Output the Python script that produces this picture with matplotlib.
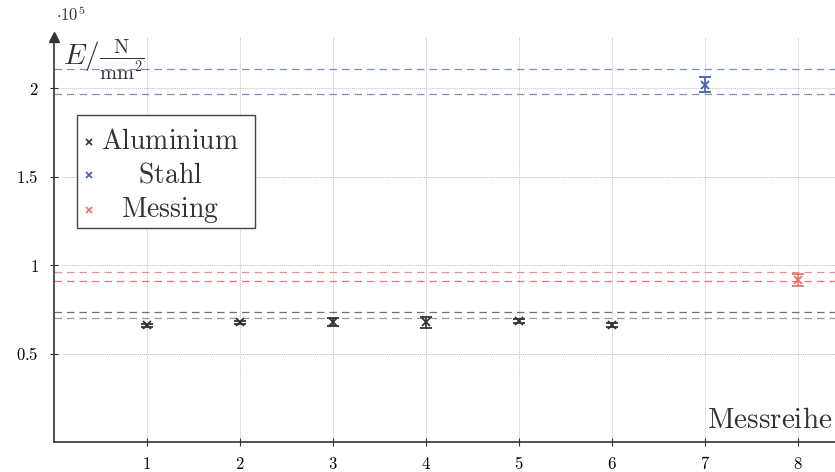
"""Elastic modulus per measurement series."""

import matplotlib

matplotlib.use("Agg")
import matplotlib.pyplot as plt  # noqa: E402
from matplotlib.patches import Rectangle  # noqa: E402

plt.rcParams["mathtext.fontset"] = "cm"
plt.rcParams["font.family"] = "serif"
plt.rcParams["font.serif"] = ["DejaVu Serif"]

SCALE = 1e5

# measured moduli in N/mm^2 with uncertainties
alu_series = [1, 2, 3, 4, 5, 6]
alu_E = [66000, 67600, 67800, 67600, 68400, 66300]
alu_err = [1000, 1000, 2200, 3000, 1200, 1200]

stahl_series = [7]
stahl_E = [202100]
stahl_err = [4000]

messing_series = [8]
messing_E = [91500]
messing_err = [3500]

# literature ranges (lower, upper) in N/mm^2
alu_range = [70000, 73500]
stahl_range = [196500, 211000]
messing_range = [91000, 96000]

x_ticks = [1, 2, 3, 4, 5, 6, 7, 8]
y_ticks = [0.5, 1, 1.5, 2]

BLACK = "#333333"
BLUE = "#3f5fb0"
RED = "#ec6f6c"

fig = plt.figure(figsize=(8.35, 4.72), dpi=100)
ax = fig.add_axes([54 / 835, 30 / 472, 781 / 835, 405 / 472])

# dashed reference bands
dash = (0, (6, 4))
ax.axhline(alu_range[1] / SCALE, color="#707070", lw=0.9, ls=dash)
ax.axhline(alu_range[0] / SCALE, color="#9a9a9a", lw=0.9, ls=dash)
ax.axhline(stahl_range[1] / SCALE, color="#6f92d6", lw=0.9, ls=dash)
ax.axhline(stahl_range[0] / SCALE, color="#8f86c8", lw=0.9, ls=dash)
ax.axhline(messing_range[1] / SCALE, color="#f08c96", lw=0.9, ls=dash)
ax.axhline(messing_range[0] / SCALE, color="#ee7676", lw=0.9, ls=dash)

for xs, ys, es, col in [
    (alu_series, alu_E, alu_err, BLACK),
    (stahl_series, stahl_E, stahl_err, BLUE),
    (messing_series, messing_E, messing_err, RED),
]:
    ax.errorbar(
        xs,
        [v / SCALE for v in ys],
        yerr=[e / SCALE for e in es],
        fmt="x",
        color=col,
        ms=6,
        mew=1.3,
        elinewidth=1.2,
        capsize=4,
        capthick=1.2,
        zorder=4,
    )

ax.set_xlim(0, 8.4)
ax.set_ylim(0, 2.29)
ax.set_xticks(x_ticks)
ax.set_yticks(y_ticks)
ax.set_xticklabels([f"${t:g}$" for t in x_ticks], fontsize=12)
ax.set_yticklabels([f"${t:g}$" for t in y_ticks], fontsize=12)
ax.tick_params(axis="x", pad=7)
ax.tick_params(axis="y", pad=8)
ax.tick_params(direction="inout", length=6, width=0.8, color="#333333")
ax.grid(True, color="#c0c0c8", ls=(0, (1, 1)), lw=0.7)
ax.set_axisbelow(True)

for side in ("top", "right"):
    ax.spines[side].set_visible(False)
for side in ("left", "bottom"):
    ax.spines[side].set_linewidth(1.2)
    ax.spines[side].set_color("#333333")
ax.plot(0, 1, marker="^", color="#333333", ms=7, transform=ax.transAxes,
        clip_on=False, zorder=5)

# axis labels
ax.text(0.011, 0.943, r"$E/\frac{\mathrm{N}}{\mathrm{mm}^2}$", fontsize=21,
        color="#333333", ha="left", va="center", transform=ax.transAxes)
ax.text(0.997, 0.02, r"$\mathrm{Messreihe}$", fontsize=21, color="#333333",
        ha="right", va="bottom", transform=ax.transAxes)
fig.text(56 / 835, 1 - 15 / 472, r"$\cdot 10^5$", fontsize=12, color="#333333",
         ha="left", va="center")

# legend with centred entries
ax.add_patch(Rectangle((0.0294, 0.528), 0.228, 0.279, transform=ax.transAxes,
                       facecolor="white", edgecolor="#444444", lw=1.0,
                       zorder=6))
for row_y, label, col in [
    (0.741, "Aluminium", BLACK),
    (0.659, "Stahl", BLUE),
    (0.573, "Messing", RED),
]:
    ax.plot(0.0448, row_y, marker="x", color=col, ms=5, mew=1.2,
            transform=ax.transAxes, zorder=7, clip_on=False)
    ax.text(0.1485, row_y, rf"$\mathrm{{{label}}}$", fontsize=20,
            color="#333333", ha="center", va="center",
            transform=ax.transAxes, zorder=7)

fig.savefig("out.png", dpi=100)
